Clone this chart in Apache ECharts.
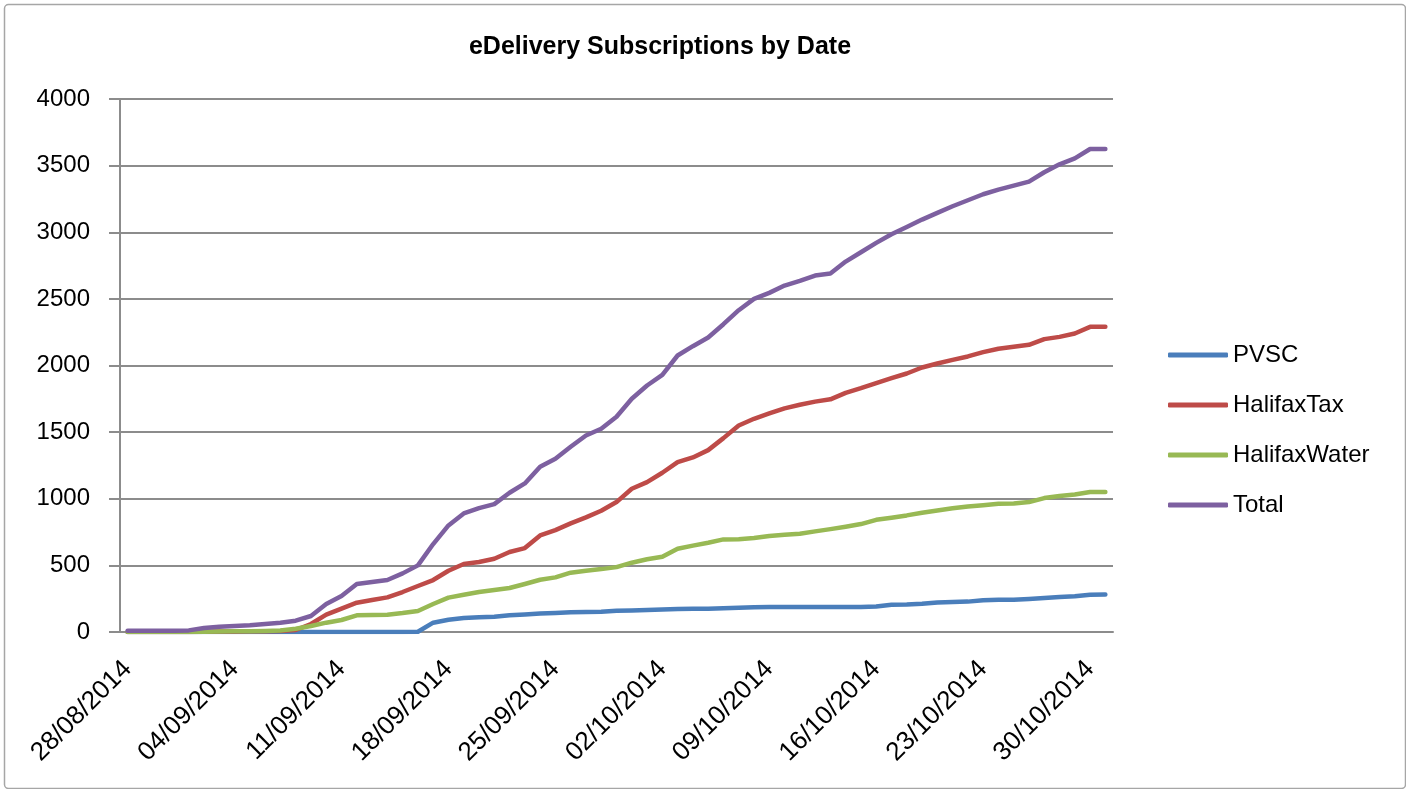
<!DOCTYPE html>
<html><head><meta charset="utf-8">
<script src="https://cdn.jsdelivr.net/npm/echarts@6/dist/echarts.min.js"></script>
<style>html,body{margin:0;padding:0;background:#fff}#c{width:1406px;height:789px}</style>
</head><body><div id="c"></div>
<script>
const dates = [
 '28/08/2014','29/08/2014','30/08/2014','31/08/2014',
 '01/09/2014','02/09/2014','03/09/2014','04/09/2014','05/09/2014','06/09/2014','07/09/2014','08/09/2014','09/09/2014','10/09/2014',
 '11/09/2014','12/09/2014','13/09/2014','14/09/2014','15/09/2014','16/09/2014','17/09/2014','18/09/2014','19/09/2014','20/09/2014',
 '21/09/2014','22/09/2014','23/09/2014','24/09/2014','25/09/2014','26/09/2014','27/09/2014','28/09/2014','29/09/2014','30/09/2014',
 '01/10/2014','02/10/2014','03/10/2014','04/10/2014','05/10/2014','06/10/2014','07/10/2014','08/10/2014','09/10/2014','10/10/2014',
 '11/10/2014','12/10/2014','13/10/2014','14/10/2014','15/10/2014','16/10/2014','17/10/2014','18/10/2014','19/10/2014','20/10/2014',
 '21/10/2014','22/10/2014','23/10/2014','24/10/2014','25/10/2014','26/10/2014','27/10/2014','28/10/2014','29/10/2014','30/10/2014',
 '31/10/2014'
];
const pvsc = [
 0,0,0,0,0,0,0,0,0,0,
 0,0,0,0,0,0,0,0,0,2,
 70,92,105,110,115,125,132,138,143,148,
 150,152,160,162,165,168,172,175,175,178,
 182,186,187,187,187,187,187,187,187,192,
 205,207,212,222,225,228,238,242,242,248,
 256,262,268,280,282
];
const halifaxTax = [
 0,0,0,0,0,2,3,4,5,6,
 8,15,60,130,175,220,240,260,300,345,
 390,460,510,525,550,600,630,725,765,815,
 860,910,975,1075,1125,1195,1275,1310,1365,1455,
 1550,1600,1640,1678,1705,1729,1746,1795,1830,1868,
 1905,1940,1985,2015,2042,2068,2100,2126,2140,2155,
 2198,2215,2240,2290,2290
];
const halifaxWater = [
 0,0,0,0,0,2,3,5,6,8,
 12,25,45,70,90,125,128,130,142,158,
 210,258,280,300,315,330,360,392,410,445,
 460,472,487,520,546,565,625,648,670,695,
 696,705,720,730,738,755,772,790,810,842,
 858,875,895,912,928,942,952,962,965,975,
 1005,1020,1032,1050,1050
];
const total = [
 10,10,10,10,12,30,40,45,50,60,
 70,85,120,210,270,360,375,390,440,500,
 660,800,890,930,960,1045,1115,1240,1300,1390,
 1475,1525,1615,1750,1850,1930,2075,2145,2210,2310,
 2415,2500,2545,2600,2635,2675,2690,2780,2850,2920,
 2985,3040,3095,3145,3195,3240,3285,3320,3350,3380,
 3450,3510,3555,3625,3625
];
const seriesNames = ['PVSC','HalifaxTax','HalifaxWater','Total'];
const seriesData = [pvsc, halifaxTax, halifaxWater, total];
const colors = ['#4A7EBB','#BE4B48','#98B954','#7D60A0'];
const yTicks = {min: 0, max: 4000, interval: 500};

const FONT = 'Liberation Sans';
const gridColor = '#8C8C8C';
const chart = echarts.init(document.getElementById('c'), null, {renderer: 'canvas'});
chart.setOption({
  animation: false,
  backgroundColor: '#fff',
  textStyle: {fontFamily: FONT},
  graphic: [{
    type: 'rect', left: 2, top: 2,
    shape: {width: 1401, height: 784, r: 4},
    style: {fill: 'none', stroke: '#A6A6A6', lineWidth: 1.5},
    silent: true
  }],
  title: {
    text: 'eDelivery Subscriptions by Date',
    left: 655, top: 30, textAlign: 'center',
    textStyle: {fontFamily: FONT, fontSize: 25, fontWeight: 'bold', color: '#000'}
  },
  legend: {
    orient: 'vertical', left: 1163, top: 338,
    itemWidth: 60, itemHeight: 5, itemGap: 26,
    icon: 'roundRect',
    textStyle: {fontFamily: FONT, fontSize: 24, color: '#000'},
    data: seriesNames
  },
  grid: {left: 120, right: 293, top: 99, bottom: 157, containLabel: false},
  xAxis: {
    type: 'category', data: dates, boundaryGap: true,
    axisLine: {lineStyle: {color: gridColor, width: 2}},
    axisTick: {interval: 6, length: 8, lineStyle: {color: gridColor, width: 2}},
    axisLabel: {interval: 6, rotate: 45, fontSize: 26, color: '#000', margin: 33, fontFamily: FONT},
    splitLine: {show: false}
  },
  yAxis: {
    type: 'value', min: yTicks.min, max: yTicks.max, interval: yTicks.interval,
    axisLine: {show: true, lineStyle: {color: gridColor, width: 2}},
    axisTick: {show: true, length: 11, lineStyle: {color: gridColor, width: 2}},
    axisLabel: {fontSize: 24, color: '#000', margin: 30, fontFamily: FONT, formatter: v => String(v)},
    splitLine: {lineStyle: {color: gridColor, width: 2}}
  },
  series: seriesNames.map((n, i) => ({
    name: n, type: 'line', data: seriesData[i],
    symbol: 'none', smooth: false,
    color: colors[i],
    lineStyle: {width: 4.5, color: colors[i], cap: 'round', join: 'round'},
    itemStyle: {color: colors[i]}
  }))
});
</script></body></html>
